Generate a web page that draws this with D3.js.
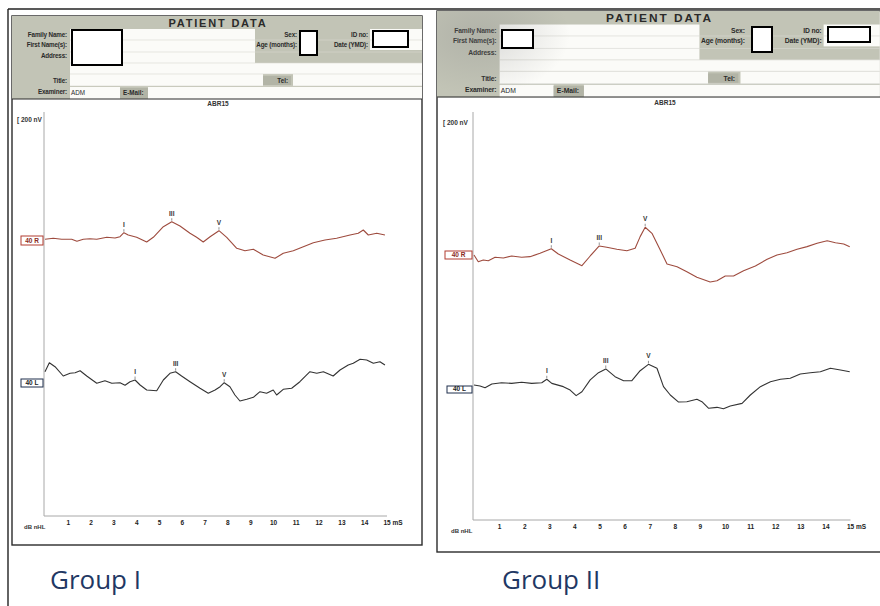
<!DOCTYPE html>
<html>
<head>
<meta charset="utf-8">
<script src="https://cdn.jsdelivr.net/npm/d3@7"></script>
<style>
  body { margin: 0; background: #fff; }
  svg { display: block; }
</style>
</head>
<body>
<svg id="svg" width="880" height="606" font-family="'Liberation Sans', Arial, sans-serif"></svg>
<script>
// time axis ticks (ms) and peak names
const timeTicks = d3.range(1, 16);
const peakNames = ['I', 'III', 'V'];
const groupNames = ['Group I', 'Group II'];
const traceTags = ['40 R', '40 L'];

// Group I, right ear, 40 dB nHL: [latency ms, amplitude nV]
const g1Right = [
  [0, 7], [0.36, 17], [0.73, 7], [1.17, 7], [1.4, -13], [1.68, 7], [1.97, 13],
  [2.27, 7], [2.71, 27], [3.07, 20], [3.29, 33], [3.46, 73], [3.65, 50],
  [4.02, 27], [4.46, -20], [4.75, 27], [5.19, 133], [5.56, 183], [5.92, 140],
  [6.36, 67], [6.65, 27], [6.94, -20], [7.24, 33], [7.63, 93], [7.97, 27],
  [8.41, -83], [8.77, -107], [9.14, -93], [9.57, -150], [10.09, -183],
  [10.45, -133], [10.89, -107], [11.33, -67], [11.77, -27], [12.28, 0],
  [12.79, 17], [13.38, 50], [13.74, 67], [13.96, 100], [14.18, 50],
  [14.55, 67], [14.91, 50]
];
// Group I, left ear
const g1Left = [
  [0, 113], [0.19, 203], [0.44, 163], [0.8, 70], [1.1, 97], [1.32, 103],
  [1.54, 123], [1.83, 70], [2.27, -3], [2.63, 23], [2.93, -3], [3.29, 3],
  [3.51, -23], [3.73, 13], [3.95, 30], [4.17, -20], [4.46, -70], [4.9, -77],
  [5.19, 30], [5.48, 97], [5.73, 113], [5.99, 70], [6.36, 13], [6.8, -53],
  [7.16, -103], [7.46, -70], [7.68, -37], [7.86, 3], [8.11, -37], [8.33, -120],
  [8.55, -180], [8.85, -163], [9.14, -143], [9.43, -87], [9.72, -103],
  [10.01, -70], [10.16, -120], [10.45, -63], [10.82, -53], [11.18, 13],
  [11.62, 113], [11.92, 97], [12.21, 113], [12.64, 70], [12.94, 130],
  [13.3, 180], [13.52, 197], [13.82, 237], [14.11, 230], [14.4, 197],
  [14.69, 213], [14.91, 180]
];
// Group II, right ear
const g2Right = [
  [0, 0], [0.17, -61], [0.37, -46], [0.57, -52], [0.84, -21], [1.17, -27],
  [1.5, -9], [1.9, -21], [2.23, -15], [2.63, 15], [3.08, 57], [3.36, 9],
  [3.83, -46], [4.3, -97], [4.63, -9], [4.99, 82], [5.29, 70], [5.69, 52],
  [6.09, 39], [6.42, 61], [6.62, 167], [6.82, 252], [7.09, 197], [7.42, 46],
  [7.69, -82], [8.09, -106], [8.48, -152], [8.88, -203], [9.41, -246],
  [9.68, -234], [10.01, -191], [10.34, -191], [10.74, -143], [11.21, -100],
  [11.68, -39], [12.07, 0], [12.47, 21], [12.87, 52], [13.27, 76],
  [13.67, 106], [14.07, 130], [14.4, 112], [14.73, 100], [14.97, 76]
];
// Group II, left ear
const g2Left = [
  [0, 0], [0.24, -9], [0.44, -25], [0.71, 9], [1.1, 21], [1.5, 15], [1.9, 25],
  [2.3, 15], [2.7, 21], [2.9, 52], [3.1, 15], [3.56, -15], [3.83, -46],
  [4.07, -97], [4.3, -61], [4.63, 46], [4.96, 112], [5.25, 146], [5.62, 76],
  [5.96, 39], [6.29, 39], [6.62, 130], [6.95, 188], [7.29, 152], [7.55, -15],
  [7.82, -91], [8.15, -155], [8.48, -152], [8.88, -130], [9.08, -152],
  [9.35, -212], [9.68, -203], [9.94, -216], [10.21, -191], [10.68, -167],
  [11.01, -91], [11.41, -15], [11.81, 30], [12.21, 52], [12.6, 61],
  [13.0, 100], [13.4, 112], [13.8, 121], [14.2, 152], [14.6, 136], [14.97, 121]
];

// marked peak latencies (ms) for I, III, V
const g1RightPeaks = [3.46, 5.56, 7.63];
const g1LeftPeaks = [3.95, 5.73, 7.86];
const g2RightPeaks = [3.08, 4.99, 6.82];
const g2LeftPeaks = [2.9, 5.25, 6.95];

const svg = d3.select('#svg');

const sheets = [
  {
    name: groupNames[0], traces: [g1Right, g1Left], peaks: [g1RightPeaks, g1LeftPeaks],
    box: [12, 16, 410, 529], head: 'translate(12,16)', headBottom: 99,
    xr: [45, 387], axisY: 516, vTop: 112, bases: [240, 383], k: 1,
    masks: [[72, 30, 50, 35], [300, 31, 17, 24], [373, 31, 35, 16]],
    abr: [218, 106], nv: [17, 122], db: [24, 529],
    tags: [[21, 236, 22, 9], [21, 379, 22, 8]], label: [50, 589]
  },
  {
    name: groupNames[1], traces: [g2Right, g2Left], peaks: [g2RightPeaks, g2LeftPeaks],
    box: [437, 11, 470, 541], head: 'translate(437,11) scale(1.08,1.04)', headBottom: 97,
    xr: [474, 850.5], axisY: 520, vTop: 112, bases: [255, 385], k: 1.1,
    masks: [[502, 30, 31, 18], [752, 27, 20, 25], [828, 27, 42, 15]],
    abr: [665, 105], nv: [443, 125], db: [451, 533],
    tags: [[445, 251, 27, 8], [447, 386, 25, 7]], label: [502, 589]
  }
];

const traceColors = ['#9e4b3e', '#333'];
const tagColors = ['#b23c30', '#1f2f4d'];

// scan shading on the second sheet's header
const defs = svg.append('defs');
const shade = defs.append('radialGradient').attr('id', 'shade')
  .attr('cx', 0.5).attr('cy', 0.5).attr('r', 0.5);
shade.append('stop').attr('offset', 0).attr('stop-color', '#888').attr('stop-opacity', 0.3);
shade.append('stop').attr('offset', 1).attr('stop-color', '#888').attr('stop-opacity', 0);
defs.append('clipPath').attr('id', 'headClip').append('rect')
  .attr('x', 437).attr('y', 11).attr('width', 443).attr('height', 86);

function ampAt(trace, t) {
  const i = d3.bisector(d => d[0]).left(trace, t);
  const a = trace[Math.max(0, i - 1)];
  const b = trace[Math.min(trace.length - 1, i)];
  if (b[0] === a[0]) return a[1];
  return a[1] + (b[1] - a[1]) * (t - a[0]) / (b[0] - a[0]);
}

function drawHeader(g) {
  g.append('rect').attr('width', 410).attr('height', 83).attr('fill', '#c2c4b6');

  // white entry fields
  const fields = [
    [58, 13, 185, 34], [58, 47, 352, 11], [58, 58, 193, 12], [281, 58, 129, 12],
    [58, 71, 50, 12], [136, 71, 274, 12], [358, 13, 52, 21]
  ];
  g.selectAll('rect.field').data(fields).enter().append('rect')
    .attr('x', d => d[0]).attr('y', d => d[1])
    .attr('width', d => d[2]).attr('height', d => d[3])
    .attr('fill', '#fbfbf8');

  // faint ruling lines
  g.selectAll('line.rule').data([24, 36, 47, 58, 70]).enter().append('line')
    .attr('x1', 58).attr('x2', 410).attr('y1', d => d).attr('y2', d => d)
    .attr('stroke', '#d8d8d2').attr('stroke-width', 0.6);

  g.append('text').attr('x', 206).attr('y', 11).attr('text-anchor', 'middle')
    .attr('font-size', 11).attr('font-weight', 'bold').attr('letter-spacing', 1.8)
    .attr('fill', '#2a2a2a').text('PATIENT DATA');

  const labels = [
    ['Family Name:', 55, 21], ['First Name(s):', 55, 31], ['Address:', 55, 42],
    ['Title:', 55, 67], ['Examiner:', 55, 78],
    ['Sex:', 285, 21], ['Age (months):', 285, 31],
    ['ID no:', 356, 21], ['Date (YMD):', 356, 31]
  ];
  g.selectAll('text.lab').data(labels).enter().append('text')
    .attr('x', d => d[1]).attr('y', d => d[2]).attr('text-anchor', 'end')
    .attr('font-size', 6.3).attr('font-weight', 'bold').attr('fill', '#2a2a2a')
    .attr('letter-spacing', -0.15)
    .text(d => d[0]);

  g.append('rect').attr('x', 251).attr('y', 60).attr('width', 28).attr('height', 9).attr('fill', '#b2b4a6');
  g.append('text').attr('x', 276).attr('y', 67).attr('text-anchor', 'end')
    .attr('font-size', 6.3).attr('font-weight', 'bold').attr('fill', '#2a2a2a').text('Tel:');

  g.append('rect').attr('x', 108).attr('y', 72).attr('width', 28).attr('height', 10).attr('fill', '#b2b4a6');
  g.append('text').attr('x', 111).attr('y', 79)
    .attr('font-size', 6.3).attr('font-weight', 'bold').attr('fill', '#2a2a2a').text('E-Mail:');
  g.append('text').attr('x', 59).attr('y', 79)
    .attr('font-size', 6.3).attr('fill', '#2a2a2a').text('ADM');
}

sheets.forEach((s, si) => {
  const [bx, by, bw, bh] = s.box;
  svg.append('rect').attr('x', bx).attr('y', by).attr('width', bw).attr('height', bh)
    .attr('fill', '#fff').attr('stroke', '#2b2b2b').attr('stroke-width', 1.4);

  const head = svg.append('g').attr('transform', s.head);
  drawHeader(head);
  if (si === 1) {
    svg.append('ellipse').attr('cx', 480).attr('cy', 35).attr('rx', 90).attr('ry', 60)
      .attr('fill', 'url(#shade)').attr('clip-path', 'url(#headClip)');
  }
  svg.append('line').attr('x1', bx).attr('x2', bx + bw).attr('y1', s.headBottom).attr('y2', s.headBottom)
    .attr('stroke', '#2b2b2b').attr('stroke-width', 1.2);

  // redaction boxes
  svg.selectAll(null).data(s.masks).enter().append('rect')
    .attr('x', d => d[0]).attr('y', d => d[1]).attr('width', d => d[2]).attr('height', d => d[3])
    .attr('fill', '#fff').attr('stroke', '#000').attr('stroke-width', 2);

  const x = d3.scaleLinear().domain([0, 15]).range(s.xr);

  svg.append('text').attr('x', s.abr[0]).attr('y', s.abr[1]).attr('text-anchor', 'middle')
    .attr('font-size', 6.5).attr('font-weight', 'bold').attr('fill', '#333').text('ABR15');
  svg.append('text').attr('x', s.nv[0]).attr('y', s.nv[1])
    .attr('font-size', 6.5).attr('font-weight', 'bold').attr('fill', '#333').text('[ 200 nV');

  // axes lines
  svg.append('line').attr('x1', x(0) - 1).attr('x2', x(0) - 1).attr('y1', s.vTop).attr('y2', s.axisY)
    .attr('stroke', '#a8a8a8').attr('stroke-width', 1);
  svg.append('line').attr('x1', x(0) - 1).attr('x2', x(15)).attr('y1', s.axisY).attr('y2', s.axisY)
    .attr('stroke', '#a8a8a8').attr('stroke-width', 1);

  const axis = d3.axisBottom(x).tickValues(timeTicks).tickSize(0).tickPadding(0)
    .tickFormat(d => d === 15 ? '15 mS' : d);
  const ax = svg.append('g').attr('transform', `translate(0,${s.axisY + 4})`).call(axis);
  ax.attr('font-family', null);
  ax.select('.domain').remove();
  ax.selectAll('text').attr('font-size', 6.5).attr('font-weight', 'bold').attr('fill', '#222');
  ax.selectAll('.tick').filter(d => d === 15).select('text').attr('text-anchor', 'start').attr('dx', -4);

  svg.append('text').attr('x', s.db[0]).attr('y', s.db[1])
    .attr('font-size', 6).attr('font-weight', 'bold').attr('fill', '#333').text('dB nHL');

  s.traces.forEach((trace, ti) => {
    const base = s.bases[ti];
    const y = d3.scaleLinear().domain([-250, 250]).range([base + 25 * s.k, base - 25 * s.k]);
    const line = d3.line().x(d => x(d[0])).y(d => y(d[1]));

    svg.append('path').datum(trace).attr('d', line)
      .attr('fill', 'none').attr('stroke', traceColors[ti]).attr('stroke-width', 1.1)
      .attr('stroke-linejoin', 'round');

    const [tx, ty, tw, th] = s.tags[ti];
    svg.append('rect').attr('x', tx).attr('y', ty).attr('width', tw).attr('height', th)
      .attr('fill', '#fff').attr('stroke', tagColors[ti]).attr('stroke-width', 1);
    svg.append('text').attr('x', tx + tw / 2).attr('y', ty + th - 2).attr('text-anchor', 'middle')
      .attr('font-size', 6.5).attr('font-weight', 'bold').attr('fill', ti === 0 ? '#8a2b22' : '#222')
      .text(traceTags[ti]);

    const pk = svg.append('g');
    s.peaks[ti].forEach((t, pi) => {
      const py = y(ampAt(trace, t));
      pk.append('line').attr('x1', x(t)).attr('x2', x(t)).attr('y1', py - 3.5).attr('y2', py - 1)
        .attr('stroke', '#777').attr('stroke-width', 0.8);
      pk.append('text').attr('x', x(t)).attr('y', py - 6).attr('text-anchor', 'middle')
        .attr('font-size', 6.5).attr('font-weight', 'bold').attr('fill', '#333').text(peakNames[pi]);
    });
  });

  svg.append('text').attr('x', s.label[0]).attr('y', s.label[1])
    .attr('font-family', "'Open Sans', sans-serif").attr('font-size', 26)
    .attr('fill', '#1f3864').text(s.name);
});

// outer frame of the figure
svg.append('line').attr('x1', 8).attr('x2', 880).attr('y1', 9).attr('y2', 9)
  .attr('stroke', '#222').attr('stroke-width', 1.4);
svg.append('line').attr('x1', 8).attr('x2', 8).attr('y1', 9).attr('y2', 606)
  .attr('stroke', '#222').attr('stroke-width', 1.4);
</script>
</body>
</html>
